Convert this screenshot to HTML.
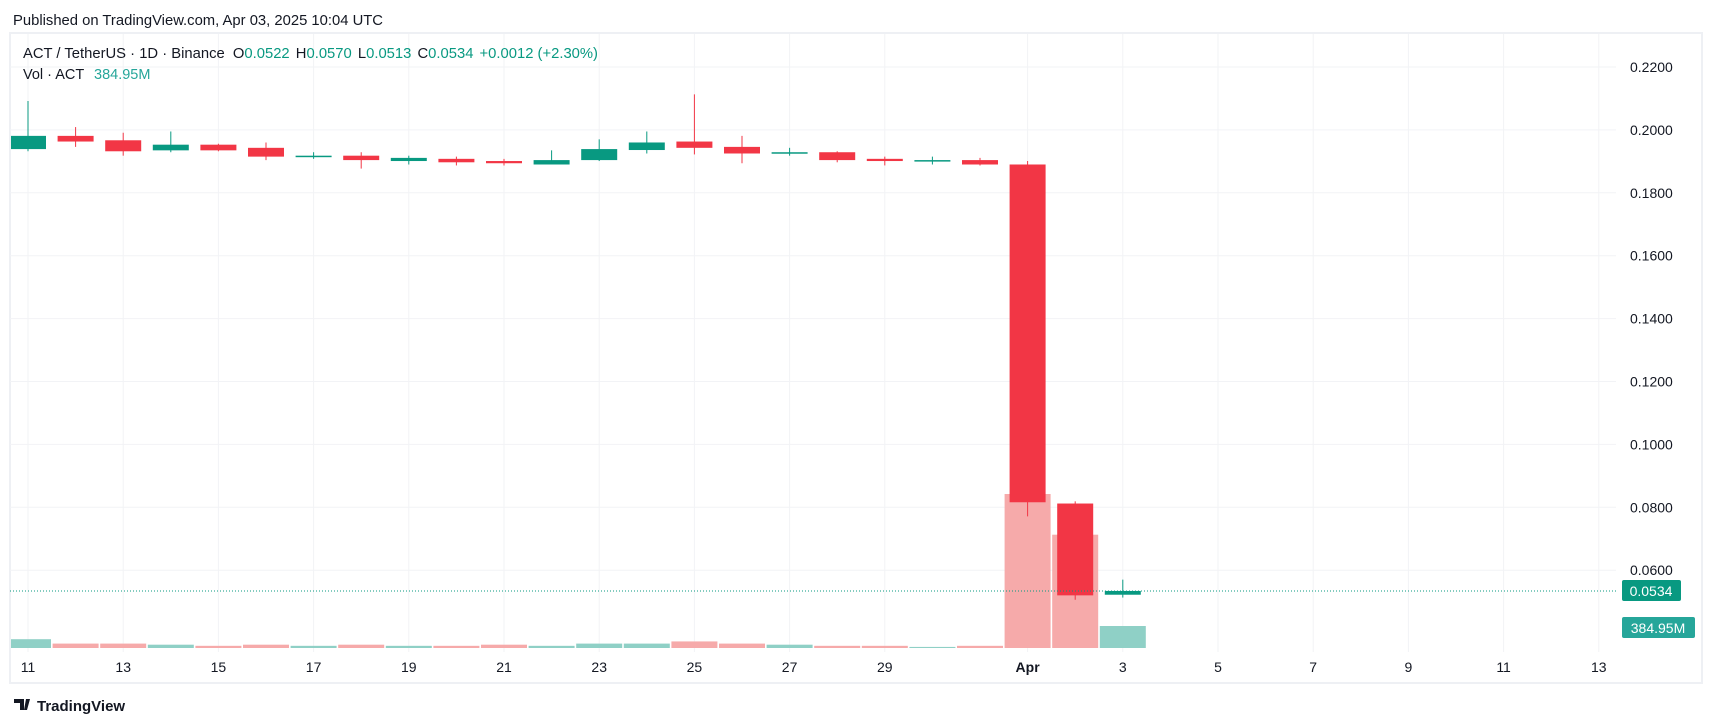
<!DOCTYPE html>
<html><head><meta charset="utf-8"><style>
body{margin:0;background:#fff;font-family:"Liberation Sans",sans-serif;}
svg{display:block}
</style></head><body>
<svg id="c" width="1714" height="728" xmlns="http://www.w3.org/2000/svg">
<defs><clipPath id="plot"><rect x="11" y="34" width="1605" height="620"/></clipPath></defs>
<text x="13" y="25" font-size="14.8" fill="#131722" textLength="370" lengthAdjust="spacingAndGlyphs">Published on TradingView.com, Apr 03, 2025 10:04 UTC</text>
<rect x="10" y="33" width="1692" height="650" fill="none" stroke="#eef0f4" stroke-width="2"/>
<g id="grid"></g>
<g id="vol" clip-path="url(#plot)"></g>
<g id="candles" clip-path="url(#plot)"></g>
<g id="axes"></g>
<g font-size="14.5">
<text x="23" y="58" fill="#131722" textLength="575" lengthAdjust="spacingAndGlyphs">ACT / TetherUS · 1D · Binance <tspan dx="4">O</tspan><tspan fill="#089981">0.0522</tspan><tspan dx="6">H</tspan><tspan fill="#089981">0.0570</tspan><tspan dx="6">L</tspan><tspan fill="#089981">0.0513</tspan><tspan dx="6">C</tspan><tspan fill="#089981">0.0534</tspan><tspan dx="6" fill="#089981">+0.0012 (+2.30%)</tspan></text>
<text x="23" y="79" fill="#131722">Vol · ACT</text>
<text x="94" y="79" fill="#26a69a">384.95M</text>
</g>
<g>
<path d="M14 699h10v11h-4v-7h-6z M26 699h4l-3 11h-3z" fill="#131722"/>
<text x="37" y="711" font-size="15" font-weight="bold" fill="#131722">TradingView</text>
</g>
</svg>
<script>
const dates=["11","12","13","14","15","16","17","18","19","20","21","22","23","24","25","26","27","28","29","30","31","Apr","2","3"];
const opens=[.1939,.1981,.1967,.1935,.1953,.1943,.1915,.1918,.1901,.1908,.1901,.1890,.1904,.1936,.1963,.1946,.1925,.1929,.1908,.1901,.1904,.1890,.0812,.0522];
const highs=[.2092,.2009,.1991,.1995,.1956,.1960,.1929,.1929,.1918,.1915,.1908,.1935,.1970,.1995,.2113,.1981,.1943,.1932,.1915,.1915,.1911,.1901,.0819,.0570];
const lows=[.1932,.1946,.1918,.1929,.1932,.1904,.1908,.1877,.1890,.1887,.1887,.1890,.1901,.1925,.1922,.1894,.1918,.1897,.1887,.1890,.1887,.0771,.0506,.0513];
const closes=[.1981,.1963,.1932,.1953,.1935,.1915,.1918,.1904,.1911,.1897,.1894,.1904,.1939,.1960,.1943,.1925,.1929,.1904,.1901,.1904,.1890,.0816,.0520,.0534];
const volumes=[154,77,77,58,38,58,38,58,38,38,58,38,77,77,115,77,58,38,38,19,38,2695,1983,385];
const priceTicks=[0.22,0.20,0.18,0.16,0.14,0.12,0.10,0.08,0.06];
const timeTicks=["11","13","15","17","19","21","23","25","27","29","Apr","3","5","7","9","11","13"];
const timeTickIdx=[0,2,4,6,8,10,12,14,16,18,21,23,25,27,29,31,33];
const NS="http://www.w3.org/2000/svg";
const X0=28,DX=47.6;
const xIdx=i=>X0+i*DX;
const y=p=>67+(0.22-p)*3145;
const VB=648,vh=v=>v*22/385;
function mk(tag,attrs,parent){const e=document.createElementNS(NS,tag);for(const k in attrs)e.setAttribute(k,attrs[k]);parent.appendChild(e);return e;}
const grid=document.getElementById('grid'),axes=document.getElementById('axes'),vol=document.getElementById('vol'),cg=document.getElementById('candles');
priceTicks.forEach(p=>{
 const l=mk('line',{x1:10,x2:1616,y1:y(p),y2:y(p),stroke:'#f2f3f6'},grid);
 
 
 const t=mk('text',{x:1630,y:y(p)+5,'font-size':14,fill:'#131722'},axes);
 t.textContent=p.toFixed(4);
 
 
});
timeTicks.forEach((d,k)=>{
 const x=xIdx(timeTickIdx[k]);
 const l=mk('line',{x1:x,x2:x,y1:34,y2:652,stroke:'#f2f3f6'},grid);
 
 
 const t=mk('text',{x:x,y:672,'font-size':14,fill:'#131722','text-anchor':'middle','font-weight':d==='Apr'?'bold':'normal'},axes);
 t.textContent=d;
 
 
});
volumes.forEach((v,i)=>{
 const up=closes[i]>=opens[i];
 const r=mk('rect',{x:xIdx(i)-23,y:VB-vh(v),width:46,height:vh(v),fill:up?'#8fd0c6':'#f6aaaa'},vol);
 
 
});
opens.forEach((o,i)=>{
 const c=closes[i],up=c>=o,col=up?'#089981':'#f23645',x=xIdx(i);
 const w=mk('line',{x1:x,x2:x,y1:y(highs[i]),y2:y(lows[i]),stroke:col,'stroke-width':1},cg);
 
 
 const top=y(Math.max(o,c)),h=Math.max(1.5,Math.abs(y(o)-y(c)));
 const b=mk('rect',{x:x-18,y:top,width:36,height:h,fill:col},cg);
 
 
});
const last=closes[closes.length-1];
const dl=mk('line',{x1:10,x2:1616,y1:y(last),y2:y(last),stroke:'#089981','stroke-dasharray':'1 2'},axes);


const pb=mk('rect',{x:1622,y:y(last)-11,width:59,height:21,rx:2,fill:'#089981'},axes);


const pt=mk('text',{x:1651,y:y(last)+5,'font-size':14,fill:'#fff','text-anchor':'middle'},axes);
pt.textContent=last.toFixed(4);


const vb=mk('rect',{x:1622,y:617,width:73,height:21,rx:2,fill:'#26a69a'},axes);


const vt=mk('text',{x:1658,y:633,'font-size':14,fill:'#fff','text-anchor':'middle'},axes);
vt.textContent='384.95M';


</script>
</body></html>
